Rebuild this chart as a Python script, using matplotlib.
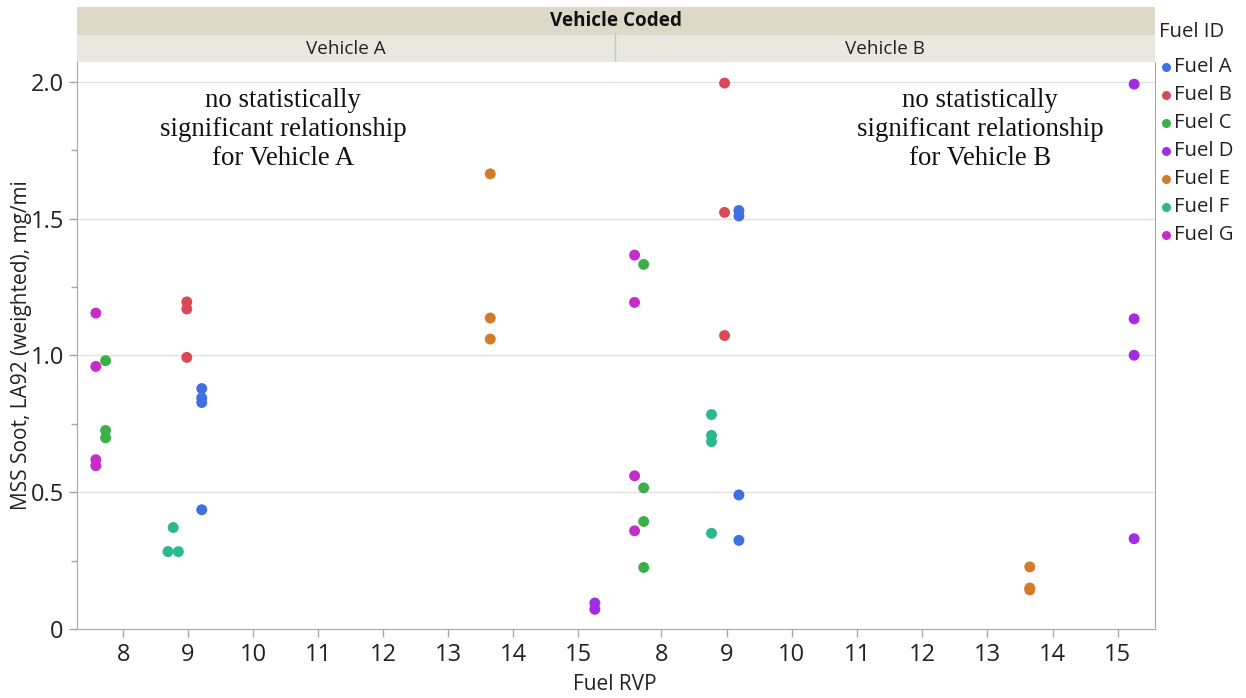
import matplotlib.pyplot as plt
from matplotlib.patches import Rectangle
from matplotlib.lines import Line2D

# soot results by vehicle and fuel (x = Fuel RVP, y = MSS soot mg/mi)
fuels = ["Fuel A", "Fuel B", "Fuel C", "Fuel D", "Fuel E", "Fuel F", "Fuel G"]
colors = ["#3f6fe0", "#d94a56", "#3daf48", "#a22de0", "#d27b2a", "#2bb891", "#c52cc9"]

veh_a_rvp = {
    "Fuel A": [9.21, 9.21, 9.21, 9.21],
    "Fuel B": [8.98, 8.98, 8.98],
    "Fuel C": [7.73, 7.73, 7.73],
    "Fuel D": [15.26, 15.26],
    "Fuel E": [13.65, 13.65, 13.65],
    "Fuel F": [8.77, 8.69, 8.85],
    "Fuel G": [7.58, 7.58, 7.58, 7.58],
}
veh_a_soot = {
    "Fuel A": [0.879, 0.845, 0.828, 0.436],
    "Fuel B": [1.196, 1.170, 0.993],
    "Fuel C": [0.981, 0.726, 0.699],
    "Fuel D": [0.095, 0.072],
    "Fuel E": [1.664, 1.137, 1.060],
    "Fuel F": [0.371, 0.283, 0.283],
    "Fuel G": [1.155, 0.960, 0.619, 0.597],
}
veh_b_rvp = {
    "Fuel A": [9.19, 9.19, 9.19, 9.19],
    "Fuel B": [8.97, 8.97, 8.97],
    "Fuel C": [7.73, 7.73, 7.73, 7.73],
    "Fuel D": [15.25, 15.25, 15.25, 15.25],
    "Fuel E": [13.65, 13.65, 13.65],
    "Fuel F": [8.77, 8.77, 8.77, 8.77],
    "Fuel G": [7.59, 7.59, 7.59, 7.59],
}
veh_b_soot = {
    "Fuel A": [1.530, 1.510, 0.490, 0.324],
    "Fuel B": [1.996, 1.523, 1.073],
    "Fuel C": [1.333, 0.516, 0.393, 0.225],
    "Fuel D": [1.992, 1.134, 1.001, 0.330],
    "Fuel E": [0.227, 0.150, 0.143],
    "Fuel F": [0.784, 0.708, 0.685, 0.350],
    "Fuel G": [1.367, 1.194, 0.560, 0.359],
}

vehicles = ["Vehicle A", "Vehicle B"]
notes = ["no statistically\nsignificant relationship\nfor Vehicle A",
         "no statistically\nsignificant relationship\nfor Vehicle B"]
x_ticks = [8, 9, 10, 11, 12, 13, 14, 15]
y_ticks = [0, 0.5, 1.0, 1.5, 2.0]
y_tick_labels = ["0", "0.5", "1.0", "1.5", "2.0"]

W, H = 1246, 698
plt.rcParams['font.family'] = ['Open Sans', 'DejaVu Sans']
fig = plt.figure(figsize=(W / 100, H / 100), dpi=100)


def box(x0, y0, x1, y1):
    # pixel box (top-left origin) -> figure fraction rect
    return [x0 / W, 1 - y1 / H, (x1 - x0) / W, (y1 - y0) / H]


edge = "#a8a8a8"
grid = "#e2e2e2"
text_c = "#222222"
panels = [(77, 615), (615, 1155)]
data = [(veh_a_rvp, veh_a_soot), (veh_b_rvp, veh_b_soot)]
note_x = [283, 980]
for i, (x0, x1) in enumerate(panels):
    ax = fig.add_axes(box(x0, 62, x1, 629))
    rvp, soot = data[i]
    for fuel, c in zip(fuels, colors):
        ax.scatter(rvp[fuel], soot[fuel], s=62, color=c, edgecolors="none", zorder=3)
    ax.set_xlim(7.29, 15.57)
    ax.set_ylim(0, 2.073)
    ax.set_xticks(x_ticks)
    ax.set_xticklabels([str(t) for t in x_ticks], fontsize=17)
    ax.set_yticks(y_ticks)
    ax.set_yticks([0.25, 0.75, 1.25, 1.75], minor=True)
    ax.tick_params(axis="both", colors=edge, labelcolor=text_c, length=6, width=1)
    ax.tick_params(axis="y", which="minor", colors=edge, length=4, width=1)
    ax.tick_params(axis="x", pad=4)
    for y in y_ticks[1:]:
        ax.axhline(y, color=grid, lw=1, zorder=1)
    for side in ["top", "right", "left", "bottom"]:
        ax.spines[side].set_visible(False)
    ax.spines["bottom"].set_visible(True)
    ax.spines["bottom"].set_color(edge)
    ax.spines["right"].set_visible(True)
    if i == 0:
        ax.spines["left"].set_visible(True)
        ax.spines["left"].set_color(edge)
        ax.spines["right"].set_color(grid)
        ax.set_yticklabels(y_tick_labels, fontsize=17)
    else:
        ax.spines["right"].set_color(edge)
        ax.tick_params(axis="y", which="both", left=False, labelleft=False)
    fig.text(note_x[i] / W, 1 - 88 / H, notes[i], ha="center", va="top",
             fontsize=19.3, family="Liberation Serif", linespacing=1.22,
             color="#111111")

# facet header bands
hdr = fig.add_axes(box(77, 7, 1155, 62))
hdr.set_xlim(77, 1155)
hdr.set_ylim(62, 7)
hdr.axis("off")
hdr.add_patch(Rectangle((77, 7), 1078, 28, color="#dcd9c9", lw=0))
hdr.add_patch(Rectangle((77, 35), 1078, 27, color="#e9e8df", lw=0))
hdr.plot([615, 615], [35, 62], color="#c8c6bb", lw=1)
hdr.text(616, 21, "Vehicle Coded", ha="center", va="center", fontsize=13.6,
         fontweight="bold", color="#111111")
for (x0, x1), name in zip(panels, vehicles):
    hdr.text((x0 + x1) / 2, 49, name, ha="center", va="center", fontsize=13.6,
             color=text_c)

fig.text(22 / W, 1 - 345 / H, "MSS Soot, LA92 (weighted), mg/mi", rotation=90,
         ha="center", va="center", fontsize=15, color=text_c)
fig.text(615 / W, 1 - 684 / H, "Fuel RVP", ha="center", va="center",
         fontsize=15, color=text_c)

# legend
fig.text(1159 / W, 1 - 32 / H, "Fuel ID", ha="left", va="center", fontsize=14.6,
         color=text_c)
for k, (fuel, c) in enumerate(zip(fuels, colors)):
    yy = 67 + 28 * k
    fig.add_artist(Line2D([1166 / W], [1 - yy / H], marker="o", markersize=6.5,
                          color=c, markeredgewidth=0, transform=fig.transFigure))
    fig.text(1174 / W, 1 - yy / H, fuel, ha="left", va="center", fontsize=14.6,
             color=text_c)

fig.savefig("out.png", dpi=100)
